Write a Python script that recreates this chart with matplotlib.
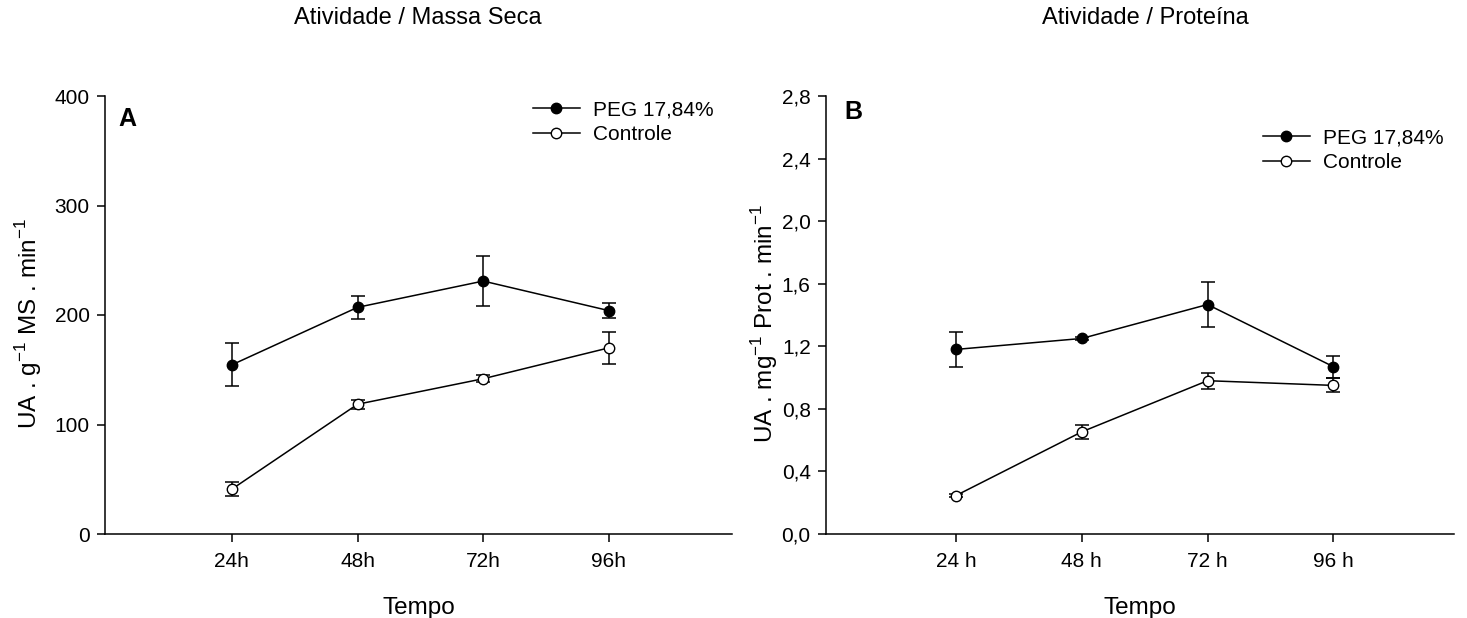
import matplotlib
matplotlib.use('Agg')
import matplotlib.pyplot as plt
from matplotlib.lines import Line2D

plt.rcParams['font.family'] = ['Liberation Sans', 'DejaVu Sans']

# Data
tempo = [1, 2, 3, 4]
labels_a = ['24h', '48h', '72h', '96h']
labels_b = ['24 h', '48 h', '72 h', '96 h']

# Panel A: Atividade / Massa Seca
peg_ms = [154.5, 207, 231, 204]
peg_ms_err = [19.5, 10.5, 22.5, 7]
ctrl_ms = [41, 118.5, 141.8, 170]
ctrl_ms_err = [6.5, 4, 3, 14.5]

# Panel B: Atividade / Proteina
peg_prot = [1.18, 1.25, 1.467, 1.07]
peg_prot_err = [0.11, 0.01, 0.145, 0.07]
ctrl_prot = [0.246, 0.653, 0.98, 0.95]
ctrl_prot_err = [0.01, 0.045, 0.05, 0.045]

W, H = 1467, 618
fig = plt.figure(figsize=(W / 100, H / 100), dpi=100)
ax_a = fig.add_axes([105 / W, 84 / H, 627 / W, 438 / H])
ax_b = fig.add_axes([826 / W, 84 / H, 628 / W, 438 / H])

MS = 7.5
LW = 1.1


def draw_panel(ax, peg, peg_err, ctrl, ctrl_err, xlabels):
    ax.errorbar(tempo, peg, yerr=peg_err, color='black', marker='o', markersize=MS,
                markerfacecolor='black', markeredgecolor='black', lw=LW,
                elinewidth=LW, capsize=5, capthick=LW, zorder=3)
    ax.errorbar(tempo, ctrl, yerr=ctrl_err, color='black', marker='o', markersize=MS,
                markerfacecolor='white', markeredgecolor='black', lw=LW,
                elinewidth=LW, capsize=5, capthick=LW, zorder=3)
    ax.set_xticks(tempo)
    ax.set_xticklabels(xlabels)
    for s in ['top', 'right']:
        ax.spines[s].set_visible(False)
    for s in ['left', 'bottom']:
        ax.spines[s].set_linewidth(LW)
    ax.tick_params(direction='out', length=6, width=LW, labelsize=15, pad=5)
    ax.tick_params(axis='x', pad=7)
    ax.set_xlabel('Tempo', fontsize=17.5, labelpad=19)


def add_legend(ax, x_px, y_px):
    handles = [
        Line2D([], [], color='black', lw=LW, marker='o', markersize=MS,
               markerfacecolor='black', markeredgecolor='black'),
        Line2D([], [], color='black', lw=LW, marker='o', markersize=MS,
               markerfacecolor='white', markeredgecolor='black'),
    ]
    ax.legend(handles, ['PEG 17,84%', 'Controle'], loc='upper left',
              bbox_to_anchor=(x_px / W, 1 - y_px / H), bbox_transform=fig.transFigure,
              frameon=False, fontsize=15, handlelength=2.25, handletextpad=0.65,
              labelspacing=0.3, borderpad=0, borderaxespad=0)


draw_panel(ax_a, peg_ms, peg_ms_err, ctrl_ms, ctrl_ms_err, labels_a)
ax_a.set_xlim(-0.01, 4.98)
ax_a.set_ylim(0, 400)
ax_a.set_yticks([0, 100, 200, 300, 400])
ax_a.set_ylabel('UA . g$^{\\mathregular{-1}}$ MS . min$^{\\mathregular{-1}}$', fontsize=17.5)
ax_a.yaxis.set_label_coords(-0.097, 0.48)
ax_a.text(0.022, 0.975, 'A', transform=ax_a.transAxes, fontsize=18, fontweight='bold', va='top')
add_legend(ax_a, 533, 100)

draw_panel(ax_b, peg_prot, peg_prot_err, ctrl_prot, ctrl_prot_err, labels_b)
ax_b.set_xlim(-0.034, 4.96)
ax_b.set_ylim(0, 2.8)
yt = [0, 0.4, 0.8, 1.2, 1.6, 2.0, 2.4, 2.8]
ax_b.set_yticks(yt)
ax_b.set_yticklabels([f'{v:.1f}'.replace('.', ',') for v in yt])
ax_b.set_ylabel('UA . mg$^{\\mathregular{-1}}$ Prot . min$^{\\mathregular{-1}}$', fontsize=17.5)
ax_b.yaxis.set_label_coords(-0.074, 0.48)
ax_b.text(0.03, 0.99, 'B', transform=ax_b.transAxes, fontsize=18, fontweight='bold', va='top')
add_legend(ax_b, 1263, 128)

fig.text(418 / W, 1 - 18 / H, 'Atividade / Massa Seca', ha='center', va='center', fontsize=17)
fig.text(1145 / W, 1 - 18 / H, 'Atividade / Proteína', ha='center', va='center', fontsize=17)

fig.savefig('out.png', dpi=100)
